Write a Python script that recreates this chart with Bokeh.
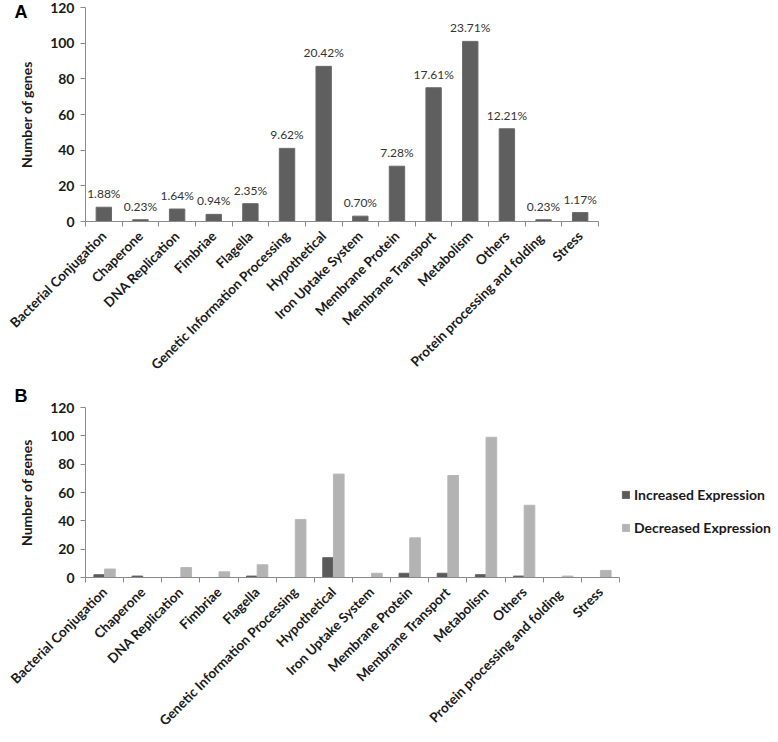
import math
from bokeh.plotting import figure
from bokeh.models import FixedTicker, Range1d, Label, Legend, LegendItem
from bokeh.layouts import column
from bokeh.embed import file_html
from bokeh.resources import INLINE
from bokeh.core.properties import value

categories = ["Bacterial Conjugation", "Chaperone", "DNA Replication", "Fimbriae", "Flagella",
              "Genetic Information Processing", "Hypothetical", "Iron Uptake System",
              "Membrane Protein", "Membrane Transport", "Metabolism", "Others",
              "Protein processing  and folding", "Stress"]
gene_counts = [8, 1, 7, 4, 10, 41, 87, 3, 31, 75, 101, 52, 1, 5]
percent_labels = ["1.88%", "0.23%", "1.64%", "0.94%", "2.35%", "9.62%", "20.42%", "0.70%",
                  "7.28%", "17.61%", "23.71%", "12.21%", "0.23%", "1.17%"]
increased = [2, 1, 0, 0, 1, 0, 14, 0, 3, 3, 2, 1, 0, 0]
decreased = [6, 0, 7, 4, 9, 41, 73, 3, 28, 72, 99, 51, 1, 5]
y_ticks = [0, 20, 40, 60, 80, 100, 120]

FONT = "Lato"
AXIS_COL = "#8a8a8a"
TEXT_COL = "#1a1a1a"

xs = list(range(1, len(categories) + 1))
bounds = [i + 0.5 for i in range(0, len(categories) + 1)]
overrides = {i: c for i, c in zip(xs, categories)}


def style(p):
    p.outline_line_color = None
    p.xgrid.grid_line_color = None
    p.ygrid.grid_line_color = None
    p.background_fill_color = "white"
    p.border_fill_color = "white"
    xa = p.xaxis[0]
    xa.ticker = FixedTicker(ticks=xs, minor_ticks=bounds)
    xa.major_label_overrides = overrides
    xa.major_tick_out = 0
    xa.major_tick_in = 0
    xa.minor_tick_out = 5
    xa.minor_tick_in = 0
    xa.minor_tick_line_color = AXIS_COL
    xa.axis_line_color = AXIS_COL
    xa.major_label_orientation = math.pi / 4
    xa.major_label_standoff = 7
    xa.major_label_text_font = FONT
    xa.major_label_text_font_style = "bold"
    xa.major_label_text_font_size = "13.5px"
    xa.major_label_text_color = TEXT_COL
    ya = p.yaxis[0]
    ya.ticker = FixedTicker(ticks=y_ticks)
    ya.minor_tick_line_color = None
    ya.major_tick_out = 5
    ya.major_tick_in = 0
    ya.major_tick_line_color = AXIS_COL
    ya.axis_line_color = AXIS_COL
    ya.major_label_text_font = FONT
    ya.major_label_text_font_style = "bold"
    ya.major_label_text_font_size = "14px"
    ya.major_label_text_color = TEXT_COL
    ya.major_label_standoff = 6
    ya.axis_label = "Number of genes"
    ya.axis_label_text_font = FONT
    ya.axis_label_text_font_style = "bold"
    ya.axis_label_text_font_size = "14px"
    ya.axis_label_text_color = TEXT_COL
    ya.axis_label_standoff = 12


# ---------------- Panel A ----------------
pA = figure(frame_width=513, frame_height=214, x_range=Range1d(0.5, 14.5), y_range=Range1d(0, 120),
            output_backend="svg", toolbar_location=None,
            min_border_left=81, min_border_right=178, min_border_top=7, min_border_bottom=163)
pA.vbar(x=xs, top=gene_counts, width=0.42, fill_color="#5f5f5f", line_color="#6a6a6a")
pA.text(x=xs, y=gene_counts, text=percent_labels, text_font=value(FONT), text_font_size="12px",
        text_align="center", text_baseline="bottom", y_offset=-6, text_color="#333333")
style(pA)
pA.add_layout(Label(x=12, y=220, x_units="screen", y_units="screen", text="A",
                    text_font="Liberation Sans", text_font_style="bold", text_font_size="18px",
                    text_baseline="top", text_align="left", text_color="black"), "left")

# ---------------- Panel B ----------------
pB = figure(frame_width=534, frame_height=170, x_range=Range1d(0.5, 14.5), y_range=Range1d(0, 120),
            output_backend="svg", toolbar_location=None,
            min_border_left=85, min_border_right=154, min_border_top=23, min_border_bottom=158)
xs_inc = [x - 0.14 for x in xs]
xs_dec = [x + 0.14 for x in xs]
r_inc = pB.vbar(x=xs_inc, top=increased, width=0.28, fill_color="#5a5a5a", line_color="#666666")
r_dec = pB.vbar(x=xs_dec, top=decreased, width=0.28, fill_color="#b3b3b3", line_color="#b8b8b8")
style(pB)
pB.add_layout(Label(x=12, y=192, x_units="screen", y_units="screen", text="B",
                    text_font="Liberation Sans", text_font_style="bold", text_font_size="18px",
                    text_baseline="top", text_align="left", text_color="black"), "left")
legend = Legend(items=[LegendItem(label="Increased Expression", renderers=[r_inc]),
                       LegendItem(label="Decreased Expression", renderers=[r_dec])],
                location=(2, 41), border_line_color=None, background_fill_alpha=0,
                glyph_width=9, glyph_height=9, label_standoff=4, spacing=16, padding=2,
                label_text_font=FONT, label_text_font_style="bold", label_text_font_size="14px",
                label_text_color=TEXT_COL)
pB.add_layout(legend, "right")

layout = column(pA, pB, spacing=0)
open("out.html", "w").write(file_html(layout, INLINE))
